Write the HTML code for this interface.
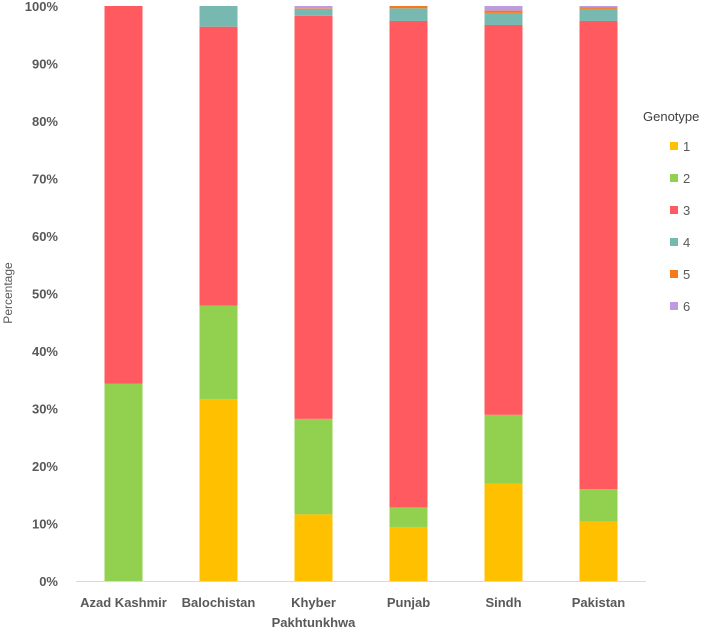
<!DOCTYPE html>
<html><head><meta charset="utf-8"><style>
body{margin:0;background:#fff;}
svg{display:block;font-family:"Liberation Sans",sans-serif;}
</style></head><body>
<svg id="chart" width="709" height="627">
<text x="12" y="293" transform="rotate(-90 12 293)" text-anchor="middle" font-size="12" fill="#595959">Percentage</text>
<text x="643" y="121" font-size="13" fill="#404040">Genotype</text>
<g id="plot"></g>
</svg>
<script>
const categories = ["Azad Kashmir","Balochistan","Khyber|Pakhtunkhwa","Punjab","Sindh","Pakistan"];
const seriesNames = ["1","2","3","4","5","6"];
const g1 = [0, 31.6, 11.6, 9.4, 16.9, 10.3];
const g2 = [34.3, 16.3, 16.6, 3.4, 12.0, 5.7];
const g3 = [65.7, 48.5, 70.1, 84.6, 67.8, 81.4];
const g4 = [0, 3.6, 1.2, 2.2, 2.1, 2.1];
const g5 = [0, 0, 0.1, 0.4, 0.4, 0.3];
const g6 = [0, 0, 0.4, 0, 0.8, 0.2];
const yTicks = [0,10,20,30,40,50,60,70,80,90,100];
const colors = ["#FFC000","#92D050","#FF5A5F","#77B9B0","#F47A20","#BE9BE0"];
const series = [g1,g2,g3,g4,g5,g6];
const NS="http://www.w3.org/2000/svg";
const plot=document.getElementById('plot');
const x0=76, band=95, barW=38, yBase=581, yTop=6;
const yScale=v=>yBase-(yBase-yTop)*v/100;
const xCenter=i=>x0+band*i+band/2;
function mk(tag,attrs){const e=document.createElementNS(NS,tag);for(const k in attrs)e.setAttribute(k,attrs[k]);plot.appendChild(e);return e;}
yTicks.forEach(t=>{
  const e=mk('text',{x:58,y:yScale(t)+5,'text-anchor':'end','font-size':13,'font-weight':'bold',fill:'#595959'});
  e.textContent=t+'%';
  
  
});
categories.forEach((c,i)=>{
  let cum=0;
  series.forEach((s,k)=>{
    const v=s[i]; if(v<=0){return;}
    const r=mk('rect',{x:xCenter(i)-barW/2,y:yScale(cum+v),width:barW,height:yScale(cum)-yScale(cum+v),fill:colors[k]});
    
    
    cum+=v;
  });
  c.split('|').forEach((line,j)=>{
    const t=mk('text',{x:xCenter(i),y:607+j*20,'text-anchor':'middle','font-size':13,'font-weight':'bold',fill:'#595959'});
    t.textContent=line;
    
    
  });
});
const ax=mk('line',{x1:x0,x2:x0+band*6,y1:yBase+0.5,y2:yBase+0.5,stroke:'#d9d9d9','stroke-width':1});


seriesNames.forEach((n,k)=>{
  const y=146+32*k;
  const r=mk('rect',{x:670,y:y-4,width:8,height:8,fill:colors[k]});
  
  
  const t=mk('text',{x:683,y:y+5,'font-size':13,fill:'#595959'});
  t.textContent=n;
  
  
});
</script>
</body></html>
